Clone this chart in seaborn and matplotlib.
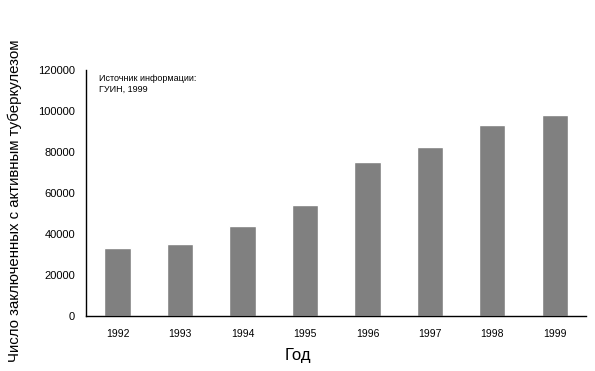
import pandas as pd
import matplotlib
matplotlib.use("Agg")
import matplotlib.pyplot as plt
import seaborn as sns

# === Data ===
years = ["1992", "1993", "1994", "1995", "1996", "1997", "1998", "1999"]
prisoners = [33200, 35100, 43900, 54100, 75100, 82400, 93200, 98000]
y_ticks = [0, 20000, 40000, 60000, 80000, 100000, 120000]

df = pd.DataFrame({"Год": years, "Число": prisoners})

sns.set_theme(style="white")
plt.rcParams["font.family"] = ["Liberation Sans", "DejaVu Sans"]
plt.rcParams["text.color"] = "black"
plt.rcParams["xtick.color"] = "black"
plt.rcParams["ytick.color"] = "black"

fig = plt.figure(figsize=(5.95, 3.71), dpi=100)
ax = fig.add_axes([0.145, 0.148, 0.840, 0.663])

sns.barplot(data=df, x="Год", y="Число", color="#808080", width=0.42,
            saturation=1, ax=ax)

ax.set_ylim(0, 120000)
ax.set_xlim(-0.5, 7.5)
ax.set_yticks(y_ticks)
ax.set_yticklabels([str(v) for v in y_ticks], fontsize=8)
ax.tick_params(axis="x", labelsize=7.5, length=0, pad=9)
ax.tick_params(axis="y", length=0, pad=8)

sns.despine(ax=ax)
for s in ["left", "bottom"]:
    ax.spines[s].set_color("black")
    ax.spines[s].set_linewidth(1.0)

ax.set_xlabel("")
ax.set_ylabel("")
fig.text(0.50, 0.043, "Год", fontsize=12, ha="center", va="center")
fig.text(0.025, 0.46, "Число заключенных с активным туберкулезом",
         fontsize=10.8, rotation=90, ha="center", va="center")

ax.text(0.025, 0.985, "Источник информации:\nГУИН, 1999",
        transform=ax.transAxes, fontsize=6.5, ha="left", va="top",
        linespacing=1.3)

fig.savefig("out.png", dpi=100)
